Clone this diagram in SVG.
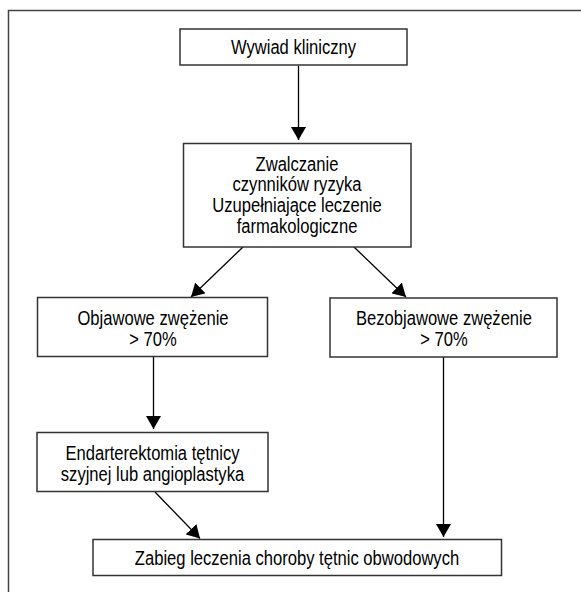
<svg xmlns="http://www.w3.org/2000/svg" width="581" height="592" viewBox="0 0 581 592">
<style>
  .box { fill: #ffffff; stroke: #333333; stroke-width: 1.5; }
  .lbl { font-family: "Liberation Sans", Arial, sans-serif; font-size: 21px; fill: #000000; text-anchor: middle; }
  .conn { stroke: #000000; stroke-width: 1.3; fill: none; marker-end: url(#ah); }
  .frame { stroke: #444444; stroke-width: 1.5; fill: none; }
</style>
<defs>
  <marker id="ah" viewBox="0 0 13 15" refX="13" refY="7.5" markerWidth="13" markerHeight="15" orient="auto" markerUnits="userSpaceOnUse">
    <path d="M0,0 L13,7.5 L0,15 z" fill="#000000"/>
  </marker>
</defs>
<rect x="0" y="0" width="581" height="592" fill="#ffffff"/>
<path class="frame" d="M8.5,592 V10.5 H581"/>

<g id="connectors">
  <line class="conn" x1="298.5" y1="65.5" x2="298.5" y2="140"/>
  <line class="conn" x1="243" y1="247" x2="191" y2="297"/>
  <line class="conn" x1="354" y1="247" x2="406" y2="297"/>
  <line class="conn" x1="153.5" y1="356.5" x2="153.5" y2="429"/>
  <line class="conn" x1="443.5" y1="357" x2="443.5" y2="537"/>
  <line class="conn" x1="155" y1="492" x2="200" y2="538.5"/>
</g>

<g id="n1">
  <rect class="box" x="180" y="29" width="227" height="36"/>
  <text class="lbl" transform="translate(293.5 54) scale(0.79 1)">Wywiad kliniczny</text>
</g>
<g id="n2">
  <rect class="box" x="183.5" y="143.5" width="227.5" height="103.5"/>
  <text class="lbl" transform="translate(297 170.5) scale(0.79 1)">Zwalczanie</text>
  <text class="lbl" transform="translate(297 191) scale(0.79 1)">czynników ryzyka</text>
  <text class="lbl" transform="translate(297 211.5) scale(0.79 1)">Uzupełniające leczenie</text>
  <text class="lbl" transform="translate(297 232.5) scale(0.79 1)">farmakologiczne</text>
</g>
<g id="n3">
  <rect class="box" x="37.5" y="297.5" width="230" height="59"/>
  <text class="lbl" transform="translate(153 324.5) scale(0.79 1)">Objawowe zwężenie</text>
  <text class="lbl" transform="translate(153 345.5) scale(0.79 1)">&gt; 70%</text>
</g>
<g id="n4">
  <rect class="box" x="330" y="298" width="227" height="59"/>
  <text class="lbl" transform="translate(444 325) scale(0.79 1)">Bezobjawowe zwężenie</text>
  <text class="lbl" transform="translate(444 346) scale(0.79 1)">&gt; 70%</text>
</g>
<g id="n5">
  <rect class="box" x="37" y="432.5" width="231" height="59"/>
  <text class="lbl" transform="translate(152.5 459.5) scale(0.79 1)">Endarterektomia tętnicy</text>
  <text class="lbl" transform="translate(152.5 480.5) scale(0.79 1)">szyjnej lub angioplastyka</text>
</g>
<g id="n6">
  <rect class="box" x="93" y="539.5" width="408.5" height="36"/>
  <text class="lbl" transform="translate(297 565) scale(0.79 1)">Zabieg leczenia choroby tętnic obwodowych</text>
</g>
</svg>
